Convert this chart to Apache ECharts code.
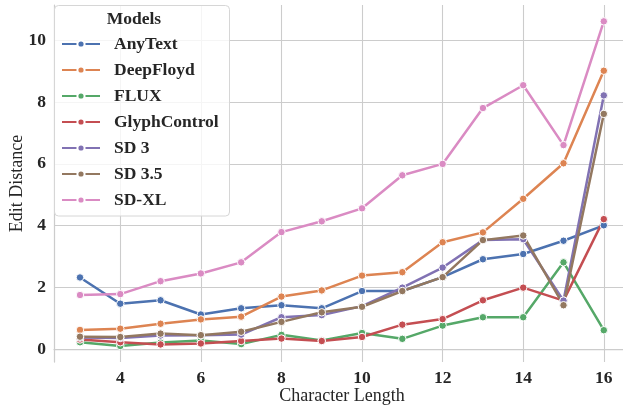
<!DOCTYPE html>
<html>
<head>
<meta charset="utf-8">
<script src="https://cdn.jsdelivr.net/npm/echarts@6/dist/echarts.min.js"></script>
<style>
html,body{margin:0;padding:0;background:#fff;}
#chart{width:623px;height:406px;}
</style>
</head>
<body>
<div id="chart"></div>
<script>
const charLengths = [3,4,5,6,7,8,9,10,11,12,13,14,15,16];
const anyText      = [2.32,1.47,1.58,1.12,1.32,1.42,1.32,1.88,1.88,2.33,2.91,3.08,3.51,4.01];
const deepFloyd    = [0.62,0.66,0.82,0.96,1.05,1.70,1.90,2.38,2.49,3.46,3.78,4.87,6.02,9.02];
const flux         = [0.22,0.10,0.21,0.28,0.16,0.46,0.28,0.52,0.33,0.76,1.03,1.03,2.81,0.61];
const glyphControl = [0.31,0.22,0.15,0.18,0.26,0.34,0.26,0.39,0.79,0.97,1.58,1.99,1.57,4.21];
const sd3          = [0.37,0.36,0.44,0.45,0.47,1.03,1.10,1.39,1.99,2.64,3.53,3.56,1.57,8.22];
const sd35         = [0.40,0.39,0.50,0.45,0.56,0.88,1.19,1.37,1.88,2.33,3.53,3.68,1.42,7.62];
const sdxl         = [1.75,1.78,2.20,2.45,2.81,3.79,4.14,4.56,5.63,6.00,7.81,8.55,6.61,10.62];
const modelNames = ['AnyText','DeepFloyd','FLUX','GlyphControl','SD 3','SD 3.5','SD-XL'];
const modelValues = [anyText, deepFloyd, flux, glyphControl, sd3, sd35, sdxl];
const xTicks = [4,6,8,10,12,14,16];
const yTicks = [0,2,4,6,8,10];

const colors = ['#4C72B0','#DD8452','#55A868','#C44E52','#8172B3','#937860','#DA8BC3'];
const FONT = '"Liberation Serif", "Times New Roman", serif';
const TXT = '#262626';
const GRID = '#cccccc';

const chart = echarts.init(document.getElementById('chart'), null, {renderer:'canvas'});

const series = modelNames.map((name, i) => ({
  name: name,
  type: 'line',
  data: charLengths.map((x, j) => [x, modelValues[i][j]]),
  symbol: 'circle',
  symbolSize: 7.5,
  showSymbol: true,
  lineStyle: {width: 2.5, color: colors[i]},
  itemStyle: {color: colors[i], borderColor: '#ffffff', borderWidth: 1},
  emphasis: {disabled: true},
  animation: false
}));

chart.setOption({
  backgroundColor: '#ffffff',
  animation: false,
  grid: {left: 54, right: -7, top: 5, bottom: 44, containLabel: false, outerBoundsMode: 'none'},
  xAxis: {
    type: 'value',
    min: 2.355, max: 16.65,
    name: 'Character Length',
    nameLocation: 'middle',
    nameGap: 25,
    nameMoveOverlap: false,
    nameTextStyle: {fontFamily: FONT, fontSize: 18, color: TXT},
    axisLine: {show: true, lineStyle: {color: GRID, width: 1.25}},
    axisTick: {show: false, customValues: xTicks},
    axisLabel: {customValues: xTicks, fontFamily: FONT, fontSize: 17.5, fontWeight: 'bold', color: TXT, margin: 7},
    splitLine: {show: true, lineStyle: {color: GRID, width: 1.1}}
  },
  yAxis: {
    type: 'value',
    min: -0.42, max: 11.15,
    name: 'Edit Distance',
    nameLocation: 'middle',
    nameGap: 28,
    nameMoveOverlap: false,
    nameTextStyle: {fontFamily: FONT, fontSize: 18, color: TXT},
    axisLine: {show: true, lineStyle: {color: GRID, width: 1.25}},
    axisTick: {show: false, customValues: yTicks},
    axisLabel: {customValues: yTicks, fontFamily: FONT, fontSize: 17.5, fontWeight: 'bold', color: TXT, margin: 8},
    splitLine: {show: true, lineStyle: {color: GRID, width: 1.1}}
  },
  legend: {
    orient: 'vertical',
    left: 61, top: 35,
    padding: 0,
    itemWidth: 38,
    itemHeight: 9,
    itemGap: 8,
    data: modelNames,
    textStyle: {fontFamily: FONT, fontSize: 17.5, fontWeight: 'bold', color: TXT, lineHeight: 18, padding: [0,0,0,9]},
    selectedMode: false
  },
  graphic: [
    {type: 'rect', z: 3, shape: {x: 54.5, y: 5.5, width: 175, height: 210.5, r: 4},
     style: {fill: 'rgba(255,255,255,0.8)', stroke: '#d6d6d6', lineWidth: 1}},
    {type: 'text', z: 5, left: 141.7 - 35, top: 10,
     style: {text: 'Models', font: 'bold 17.5px "Liberation Serif", serif', fill: TXT, x: 0, y: 0}}
  ],
  series: series
});
</script>
</body>
</html>
